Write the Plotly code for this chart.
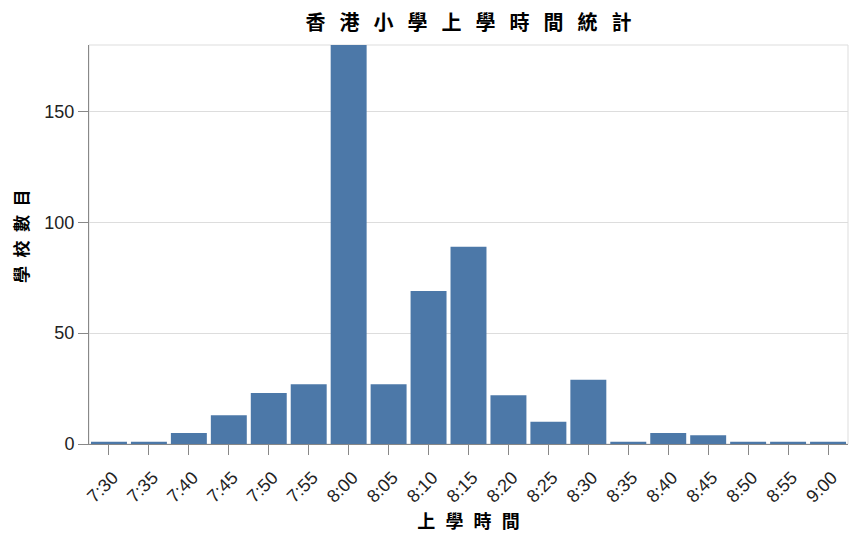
import plotly.graph_objects as go

times = ["7:30", "7:35", "7:40", "7:45", "7:50", "7:55", "8:00", "8:05", "8:10", "8:15",
         "8:20", "8:25", "8:30", "8:35", "8:40", "8:45", "8:50", "8:55", "9:00"]
school_counts = [1, 1, 5, 13, 23, 27, 180, 27, 69, 89, 22, 10, 29, 1, 5, 4, 1, 1, 1]
y_ticks = [0, 50, 100, 150]

title_text = "香港小學上學時間統計"
x_title = "上學時間"
y_title = "學校數目"

def spaced(s, sep):
    return sep.join(list(s))

cjk = "Noto Sans CJK TC, Noto Sans CJK SC, sans-serif"
latin = "Liberation Sans, Arial, sans-serif"

# page body has an 8px default margin; compensate so the plot lands where the reference has it
OFF = 8
PL, PR, PT, PB = 89, 848, 45, 444  # plot area in window pixels

fig = go.Figure(go.Bar(
    x=times, y=school_counts,
    marker=dict(color="#4c78a8", line=dict(width=0)),
))

fig.update_layout(
    width=858, height=540,
    margin=dict(l=PL - OFF, r=858 - (PR - OFF), t=PT - OFF, b=540 - (PB - OFF)),
    paper_bgcolor="white", plot_bgcolor="white",
    bargap=0.1,
    showlegend=False,
    title=dict(text="<b>" + spaced(title_text, "\u2002\u2009") + "</b>",
               font=dict(family=cjk, size=20, color="#000"),
               x=0.5, xref="paper", xanchor="center",
               y=1 - (23 - OFF) / 540, yref="container", yanchor="middle"),
    xaxis=dict(type="category", categoryorder="array", categoryarray=times,
               range=[-0.5, len(times) - 0.5],
               showline=True, linecolor="#888", linewidth=1,
               ticks="outside", ticklen=10, tickcolor="#888", tickwidth=1,
               tickangle=-45, tickfont=dict(family=latin, size=18, color="#222"),
               ticklabelstandoff=5, ticklabelshift=4,
               showgrid=False, zeroline=False, automargin=False,
               title=dict(text="<b>" + spaced(x_title, "\u2002\u200a") + "</b>",
                          font=dict(family=cjk, size=18, color="#000"), standoff=5)),
    yaxis=dict(range=[0, 180], tickvals=y_ticks,
               showline=True, linecolor="#888", linewidth=1,
               ticks="outside", ticklen=10, tickcolor="#888", tickwidth=1,
               tickfont=dict(family=latin, size=18, color="#222"),
               showgrid=True, gridcolor="#ddd", gridwidth=1,
               zeroline=False, automargin=False),
    annotations=[dict(text="<b>" + spaced(y_title, "\u2002") + "</b>",
                      textangle=-90, showarrow=False,
                      font=dict(family=cjk, size=17, color="#000"),
                      xref="paper", x=0, xanchor="center", xshift=-(PL - 20),
                      yref="paper", y=(PB - 236) / (PB - PT), yanchor="middle")],
    shapes=[dict(type="rect", xref="paper", yref="paper", x0=0, y0=0, x1=1, y1=1,
                 line=dict(color="#ddd", width=1), layer="below")],
)

fig.write_html("out.html")
